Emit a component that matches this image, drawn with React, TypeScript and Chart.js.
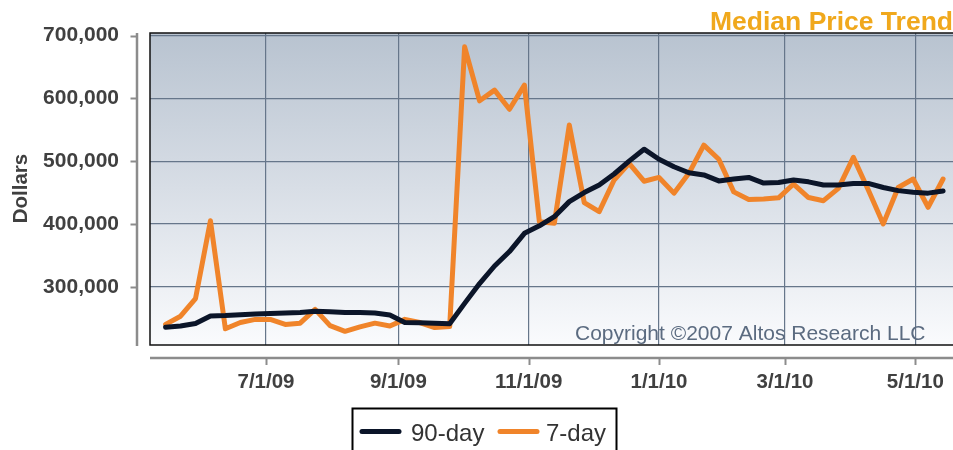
import { useEffect, useRef } from "react";
import { Chart, registerables } from "chart.js";
Chart.register(...registerables);

// Weekly observation dates
const weekDates = [
  "2009-05-15", "2009-05-22", "2009-05-29", "2009-06-05", "2009-06-12", "2009-06-19", "2009-06-26",
  "2009-07-03", "2009-07-10", "2009-07-17", "2009-07-24", "2009-07-31", "2009-08-07", "2009-08-14",
  "2009-08-21", "2009-08-28", "2009-09-04", "2009-09-11", "2009-09-18", "2009-09-25", "2009-10-02",
  "2009-10-09", "2009-10-16", "2009-10-23", "2009-10-30", "2009-11-06", "2009-11-13", "2009-11-20",
  "2009-11-27", "2009-12-04", "2009-12-11", "2009-12-18", "2009-12-25", "2010-01-01", "2010-01-08",
  "2010-01-15", "2010-01-22", "2010-01-29", "2010-02-05", "2010-02-12", "2010-02-19", "2010-02-26",
  "2010-03-05", "2010-03-12", "2010-03-19", "2010-03-26", "2010-04-02", "2010-04-09", "2010-04-16",
  "2010-04-23", "2010-04-30", "2010-05-07", "2010-05-14",
];

const ninetyDay = [
  235500, 237500, 241500, 253500, 254000, 255500, 256500, 257500, 258000, 259000,
  261000, 260000, 259000, 259000, 258000, 255000, 243000, 242500, 242000, 241000,
  273500, 305000, 333000, 356000, 385000, 397000, 411500, 435500, 450000, 462000,
  479500, 500000, 519000, 503000, 491000, 481500, 478000, 468500, 471500, 474000,
  465000, 466000, 470000, 467000, 462000, 462000, 464500, 464500, 458000, 453000,
  450500, 449000, 452500,
];

const sevenDay = [
  240000, 253000, 281000, 405000, 233000, 243000, 248000, 248000, 240000, 242000,
  264000, 238000, 229000, 236000, 242000, 237500, 248000, 243000, 235000, 236500,
  682000, 596000, 613000, 582500, 621000, 403500, 401000, 557500, 434000, 419500,
  470000, 496500, 468000, 474000, 449000, 480500, 525500, 503000, 451000, 439000,
  439500, 441500, 463500, 442000, 437000, 456500, 506000, 454000, 400000, 458000,
  471500, 426500, 471500,
];

const xTickDates = ["2009-07-01", "2009-09-01", "2009-11-01", "2010-01-01", "2010-03-01", "2010-05-01"];
const yTickValues = [300000, 400000, 500000, 600000, 700000];
const seriesNames = ["90-day", "7-day"];
const titleText = "Median Price Trend";
const yAxisTitle = "Dollars";
const copyrightText = "Copyright \u00a92007 Altos Research LLC";

const toDay = (iso: string) => {
  const [y, m, d] = iso.split("-").map(Number);
  return Date.UTC(y, m - 1, d) / 86400000;
};
const fmtDate = (day: number) => {
  const dt = new Date(Math.round(day) * 86400000);
  return `${dt.getUTCMonth() + 1}/${dt.getUTCDate()}/${String(dt.getUTCFullYear()).slice(2)}`;
};

const X_MIN = toDay("2009-05-07") + 0.7;
const X_MAX = toDay("2010-05-18") + 0.65;
const Y_MIN = 207200;
const Y_MAX = 704000;

const NAVY = "#0b1529";
const ORANGE = "#f0842a";
const FONT = '"Liberation Sans", Arial, sans-serif';

export default function App() {
  const ref = useRef<HTMLCanvasElement | null>(null);

  useEffect(() => {
    if (!ref.current) return;
    const xs = weekDates.map(toDay);

    const decor = {
      id: "decor",
      beforeDraw(chart: any) {
        const { ctx, chartArea: a } = chart;
        ctx.save();
        ctx.fillStyle = "#ffffff";
        ctx.fillRect(0, 0, chart.width, chart.height);
        const g = ctx.createLinearGradient(0, a.top, 0, a.bottom);
        g.addColorStop(0, "rgb(184,195,208)");
        g.addColorStop(0.5, "rgb(216,222,230)");
        g.addColorStop(1, "rgb(250,251,253)");
        ctx.fillStyle = g;
        ctx.fillRect(a.left, a.top, a.right - a.left, a.bottom - a.top);
        ctx.restore();
      },
      afterDraw(chart: any) {
        const { ctx, chartArea: a } = chart;
        const xs2 = chart.scales.x;
        const ys = chart.scales.y;
        ctx.save();
        // plot frame
        ctx.strokeStyle = "#111111";
        ctx.lineWidth = 1.5;
        ctx.beginPath();
        ctx.moveTo(a.right, a.top);
        ctx.lineTo(a.left, a.top);
        ctx.lineTo(a.left, a.bottom);
        ctx.lineTo(a.right, a.bottom);
        ctx.stroke();

        // offset y axis
        ctx.strokeStyle = "#8c8c8c";
        ctx.lineWidth = 2.5;
        ctx.beginPath();
        ctx.moveTo(137, a.top);
        ctx.lineTo(137, a.bottom + 1);
        ctx.stroke();
        ctx.lineWidth = 2;
        for (const v of yTickValues) {
          const py = Math.round(ys.getPixelForValue(v)) + 0.5;
          ctx.beginPath();
          ctx.moveTo(130.5, py);
          ctx.lineTo(137, py);
          ctx.stroke();
        }
        // offset x axis
        ctx.lineWidth = 2.5;
        ctx.beginPath();
        ctx.moveTo(a.left, 358);
        ctx.lineTo(a.right, 358);
        ctx.stroke();
        ctx.lineWidth = 2;
        for (const d of xTickDates) {
          const px = Math.round(xs2.getPixelForValue(toDay(d))) + 0.5;
          ctx.beginPath();
          ctx.moveTo(px, 358);
          ctx.lineTo(px, 365);
          ctx.stroke();
        }

        // title
        ctx.fillStyle = "#f0a81c";
        ctx.font = `bold 26.5px ${FONT}`;
        ctx.textAlign = "right";
        ctx.textBaseline = "alphabetic";
        ctx.fillText(titleText, 953, 29.5);

        // copyright
        ctx.fillStyle = "#5b6b80";
        ctx.font = `21px ${FONT}`;
        ctx.textAlign = "right";
        ctx.fillText(copyrightText, 925.5, 339.5);

        // y axis title
        ctx.save();
        ctx.translate(26.5, 188.5);
        ctx.rotate(-Math.PI / 2);
        ctx.fillStyle = "#404040";
        ctx.font = `bold 20.5px ${FONT}`;
        ctx.textAlign = "center";
        ctx.fillText(yAxisTitle, 0, 0);
        ctx.restore();

        // legend
        ctx.strokeStyle = "#000000";
        ctx.lineWidth = 2;
        ctx.strokeRect(352.5, 408.5, 264, 60);
        const items = [
          { name: seriesNames[0], color: NAVY, x0: 360, x1: 401, tx: 411 },
          { name: seriesNames[1], color: ORANGE, x0: 498, x1: 539, tx: 546 },
        ];
        ctx.lineCap = "round";
        for (const it of items) {
          ctx.strokeStyle = it.color;
          ctx.lineWidth = 5;
          ctx.beginPath();
          ctx.moveTo(it.x0 + 2, 431.5);
          ctx.lineTo(it.x1 - 2, 431.5);
          ctx.stroke();
          ctx.fillStyle = "#333333";
          ctx.font = `24px ${FONT}`;
          ctx.textAlign = "left";
          ctx.fillText(it.name, it.tx, 440.5);
        }
        ctx.restore();
      },
    };

    const chart = new Chart(ref.current, {
      type: "line",
      data: {
        datasets: [
          {
            label: seriesNames[0],
            data: xs.map((x, i) => ({ x, y: ninetyDay[i] })),
            borderColor: NAVY,
            borderWidth: 5,
            pointRadius: 0,
            tension: 0,
            borderJoinStyle: "round",
            borderCapStyle: "round",
          },
          {
            label: seriesNames[1],
            data: xs.map((x, i) => ({ x, y: sevenDay[i] })),
            borderColor: ORANGE,
            borderWidth: 5,
            pointRadius: 0,
            tension: 0,
            borderJoinStyle: "round",
            borderCapStyle: "round",
          },
        ],
      },
      options: {
        responsive: false,
        animation: false,
        devicePixelRatio: 1,
        layout: { padding: { top: 33, left: 0, right: 0, bottom: 0 } },
        plugins: { legend: { display: false }, title: { display: false }, tooltip: { enabled: false } },
        scales: {
          x: {
            type: "linear",
            min: X_MIN,
            max: X_MAX,
            afterBuildTicks: (s: any) => {
              s.ticks = xTickDates.map((d) => ({ value: toDay(d) }));
            },
            afterFit: (s: any) => {
              s.height = 105;
              s.paddingLeft = 0;
              s.paddingRight = 0;
            },
            ticks: {
              callback: (v: any) => fmtDate(Number(v)),
              color: "#404040",
              font: { family: FONT, size: 20.5, weight: "bold" },
              padding: 25,
              maxRotation: 0,
              autoSkip: false,
            },
            grid: { color: "#66768a", lineWidth: 1.2, drawTicks: false },
            border: { display: false },
          },
          y: {
            type: "linear",
            min: Y_MIN,
            max: Y_MAX,
            afterBuildTicks: (s: any) => {
              s.ticks = yTickValues.map((v) => ({ value: v }));
            },
            afterFit: (s: any) => {
              s.width = 150;
              s.paddingTop = 0;
              s.paddingBottom = 0;
            },
            ticks: {
              callback: (v: any) => Number(v).toLocaleString("en-US"),
              color: "#404040",
              font: { family: FONT, size: 21, weight: "bold" },
              padding: 31,
            },
            grid: { color: "#66768a", lineWidth: 1.2, drawTicks: false },
            border: { display: false },
          },
        },
      },
      plugins: [decor],
    });
    return () => chart.destroy();
  }, []);

  return (
    <div style={{ position: "fixed", left: 0, top: 0, width: 953, height: 450, background: "#fff" }}>
      <canvas ref={ref} width={953} height={450} style={{ width: 953, height: 450, display: "block" }} />
    </div>
  );
}
